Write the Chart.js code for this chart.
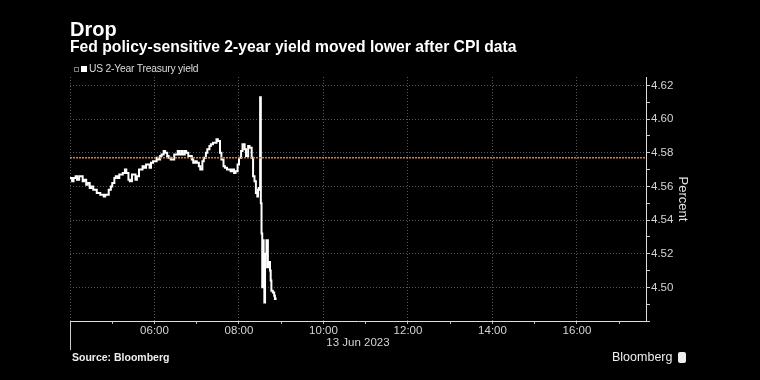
<!DOCTYPE html>
<html>
<head>
<meta charset="utf-8">
<script src="https://cdn.jsdelivr.net/npm/chart.js@4.4.0/dist/chart.umd.min.js"></script>
<style>
  html, body { margin: 0; padding: 0; background: #000; }
  #wrap { position: relative; width: 760px; height: 380px; background: #000; overflow: hidden;
          font-family: "Liberation Sans", Arial, sans-serif; }
  #chart { position: absolute; left: 0; top: 0; }
  .t { position: absolute; white-space: nowrap; color: #fff; }
  #title { left: 70px; top: 19px; font-size: 20px; line-height: 20px; font-weight: bold; }
  #subtitle { left: 70px; top: 39px; font-size: 15.7px; line-height: 16px; font-weight: bold; }
  #legend { left: 74px; top: 63px; font-size: 10.3px; line-height: 12px; letter-spacing: -0.2px; color: #ddd; display: flex; align-items: center; }
  #legend .mini { width: 3px; height: 3px; border: 1px solid #777; margin-right: 2px; }
  #legend .box { width: 6px; height: 6px; background: #fff; margin-right: 2px; }
  #source { left: 72px; top: 351px; font-size: 10.5px; line-height: 12px; font-weight: bold; color: #eee; }
  #brand { left: 612px; top: 350px; font-size: 12.5px; line-height: 14px; color: #eee; display: flex; align-items: center; }
  #brand .logo { width: 8px; height: 11px; background: #eee; border-radius: 2px; margin-left: 6px; }
</style>
</head>
<body>
<div id="wrap">
  <canvas id="chart" width="760" height="380"></canvas>
  <div class="t" id="title">Drop</div>
  <div class="t" id="subtitle">Fed policy-sensitive 2-year yield moved lower after CPI data</div>
  <div class="t" id="legend"><span class="mini"></span><span class="box"></span><span>US 2-Year Treasury yield</span></div>
  <div class="t" id="source">Source: Bloomberg</div>
  <div class="t" id="brand">Bloomberg<span class="logo"></span></div>
</div>
<script>
// 13 Jun 2023, New York time
const times = [
  '04:00','04:03','04:05','04:08','04:10','04:13','04:15','04:18','04:20','04:23',
  '04:25','04:28','04:30','04:33','04:35','04:38','04:40','04:43','04:45','04:48',
  '04:50','04:53','04:55','04:58','05:00','05:03','05:05','05:08','05:10','05:13',
  '05:15','05:18','05:20','05:23','05:25','05:28','05:30','05:33','05:35','05:38',
  '05:40','05:43','05:45','05:48','05:50','05:53','05:55','05:58','06:00','06:03',
  '06:05','06:08','06:10','06:13','06:15','06:18','06:20','06:23','06:25','06:28',
  '06:30','06:33','06:35','06:38','06:40','06:43','06:45','06:48','06:50','06:53',
  '06:55','06:58','07:00','07:03','07:05','07:08','07:10','07:13','07:15','07:18',
  '07:20','07:23','07:25','07:28','07:30','07:33','07:35','07:38','07:40','07:43',
  '07:45','07:48','07:50','07:53','07:55','07:58','08:00','08:03','08:05','08:08',
  '08:10','08:13','08:15','08:18','08:20','08:22','08:24','08:26','08:27','08:28',
  '08:29','08:30','08:31','08:32','08:33','08:34','08:35','08:36','08:37','08:38',
  '08:39','08:40','08:41','08:42','08:43','08:44','08:45','08:46','08:47','08:48',
  '08:49','08:50','08:51','08:52'
];
const yields = [
  4.565, 4.563, 4.565, 4.566, 4.564, 4.566, 4.566, 4.563, 4.564, 4.561,
  4.562, 4.559, 4.560, 4.558, 4.558, 4.556, 4.556, 4.555, 4.555, 4.554,
  4.555, 4.555, 4.558, 4.560, 4.562, 4.565, 4.566, 4.565, 4.567, 4.567,
  4.568, 4.570, 4.568, 4.564, 4.563, 4.567, 4.567, 4.564, 4.566, 4.570,
  4.570, 4.572, 4.571, 4.573, 4.573, 4.571, 4.574, 4.575, 4.575, 4.577,
  4.576, 4.578, 4.579, 4.581, 4.580, 4.578, 4.577, 4.576, 4.576, 4.579,
  4.579, 4.581, 4.579, 4.581, 4.579, 4.581, 4.580, 4.578, 4.578, 4.576,
  4.574, 4.575, 4.574, 4.572, 4.570, 4.575, 4.577, 4.580, 4.582, 4.584,
  4.585, 4.586, 4.586, 4.588, 4.587, 4.580, 4.576, 4.572, 4.571, 4.570,
  4.570, 4.569, 4.570, 4.568, 4.569, 4.573, 4.577, 4.581, 4.585, 4.582,
  4.578, 4.584, 4.583, 4.577, 4.566, 4.563, 4.556, 4.554, 4.558, 4.559,
  4.558, 4.613, 4.550, 4.532, 4.500, 4.528, 4.520, 4.491, 4.512, 4.520,
  4.528, 4.528, 4.512, 4.514, 4.515, 4.510, 4.504, 4.498, 4.498, 4.497,
  4.497, 4.495, 4.493, 4.494
];
const prevLevel = 4.577;

const xTickLabels = ['06:00', '08:00', '10:00', '12:00', '14:00', '16:00'];
const yTickLabels = ['4.50', '4.52', '4.54', '4.56', '4.58', '4.60', '4.62'];

// x axis runs in minutes after 04:00
function toMin(s) {
  const p = s.split(':').map(Number);
  return (p[0] - 4) * 60 + p[1];
}
function toHHMM(m) {
  const h = 4 + Math.floor(m / 60);
  return ('0' + h).slice(-2) + ':' + ('0' + (m % 60)).slice(-2);
}
const xMax = 818;

const lineData = times.map((t, i) => ({ x: toMin(t), y: yields[i] }));

const leftTail = {
  id: 'leftTail',
  afterDraw(chart) {
    const ctx = chart.ctx;
    const a = chart.chartArea;
    ctx.save();
    ctx.strokeStyle = '#ccc';
    ctx.lineWidth = 1;
    ctx.beginPath();
    ctx.moveTo(a.left + 0.5, a.bottom);
    ctx.lineTo(a.left + 0.5, 350);
    ctx.stroke();
    ctx.restore();
  }
};

new Chart(document.getElementById('chart'), {
  type: 'line',
  data: {
    datasets: [
      {
        label: 'prev',
        data: [{ x: 0, y: prevLevel }, { x: xMax, y: prevLevel }],
        borderColor: '#cc8040',
        borderWidth: 1.5,
        borderDash: [2, 1],
        pointRadius: 0,
        order: 0
      },
      {
        label: 'US 2-Year Treasury yield',
        data: lineData,
        borderColor: '#ffffff',
        borderWidth: 2,
        pointRadius: 0,
        stepped: true,
        order: 1
      }
    ]
  },
  options: {
    responsive: false,
    animation: false,
    layout: { padding: { left: 70, top: 77, right: 70, bottom: 31 } },
    plugins: { legend: { display: false }, tooltip: { enabled: false } },
    scales: {
      x: {
        type: 'linear',
        min: 0,
        max: xMax,
        afterBuildTicks: (s) => {
          s.ticks = [];
          for (let m = 0; m <= 780; m += 60) s.ticks.push({ value: m });
        },
        afterFit: (s) => { s.height = 28; },
        ticks: {
          autoSkip: false,
          maxRotation: 0,
          padding: 0,
          color: '#d4d4d4',
          font: { family: 'Liberation Sans', size: 11.5 },
          callback: (v) => (xTickLabels.includes(toHHMM(v)) ? toHHMM(v) : '')
        },
        grid: {
          color: (c) => (c.tick && c.tick.value % 120 === 0 ? '#555' : 'transparent'),
          tickColor: '#bbb',
          tickLength: 3,
          lineWidth: 1
        },
        border: { color: '#ddd', width: 1, dash: [1, 2] },
        title: {
          display: true,
          text: '13 Jun 2023',
          color: '#d4d4d4',
          font: { family: 'Liberation Sans', size: 11.5, lineHeight: 1 },
          padding: 0
        }
      },
      y: {
        position: 'right',
        min: 4.48,
        max: 4.625,
        afterBuildTicks: (s) => {
          s.ticks = [];
          for (let i = 0; i <= 14; i++) s.ticks.push({ value: +(4.48 + i * 0.01).toFixed(2) });
        },
        afterFit: (s) => { s.width = 44; },
        ticks: {
          autoSkip: false,
          padding: 1,
          color: '#d4d4d4',
          font: { family: 'Liberation Sans', size: 11.5 },
          callback: (v) => (yTickLabels.includes(v.toFixed(2)) ? v.toFixed(2) : '')
        },
        grid: {
          color: (c) => (c.tick && yTickLabels.includes(c.tick.value.toFixed(2)) ? '#555' : 'transparent'),
          tickColor: '#ccc',
          tickLength: 4,
          lineWidth: 1
        },
        border: { color: '#ddd', width: 1, dash: [1, 2] },
        title: {
          display: true,
          text: 'Percent',
          color: '#e0e0e0',
          font: { family: 'Liberation Sans', size: 13 },
          padding: 0
        }
      }
    }
  },
  plugins: [leftTail]
});
</script>
</body>
</html>
